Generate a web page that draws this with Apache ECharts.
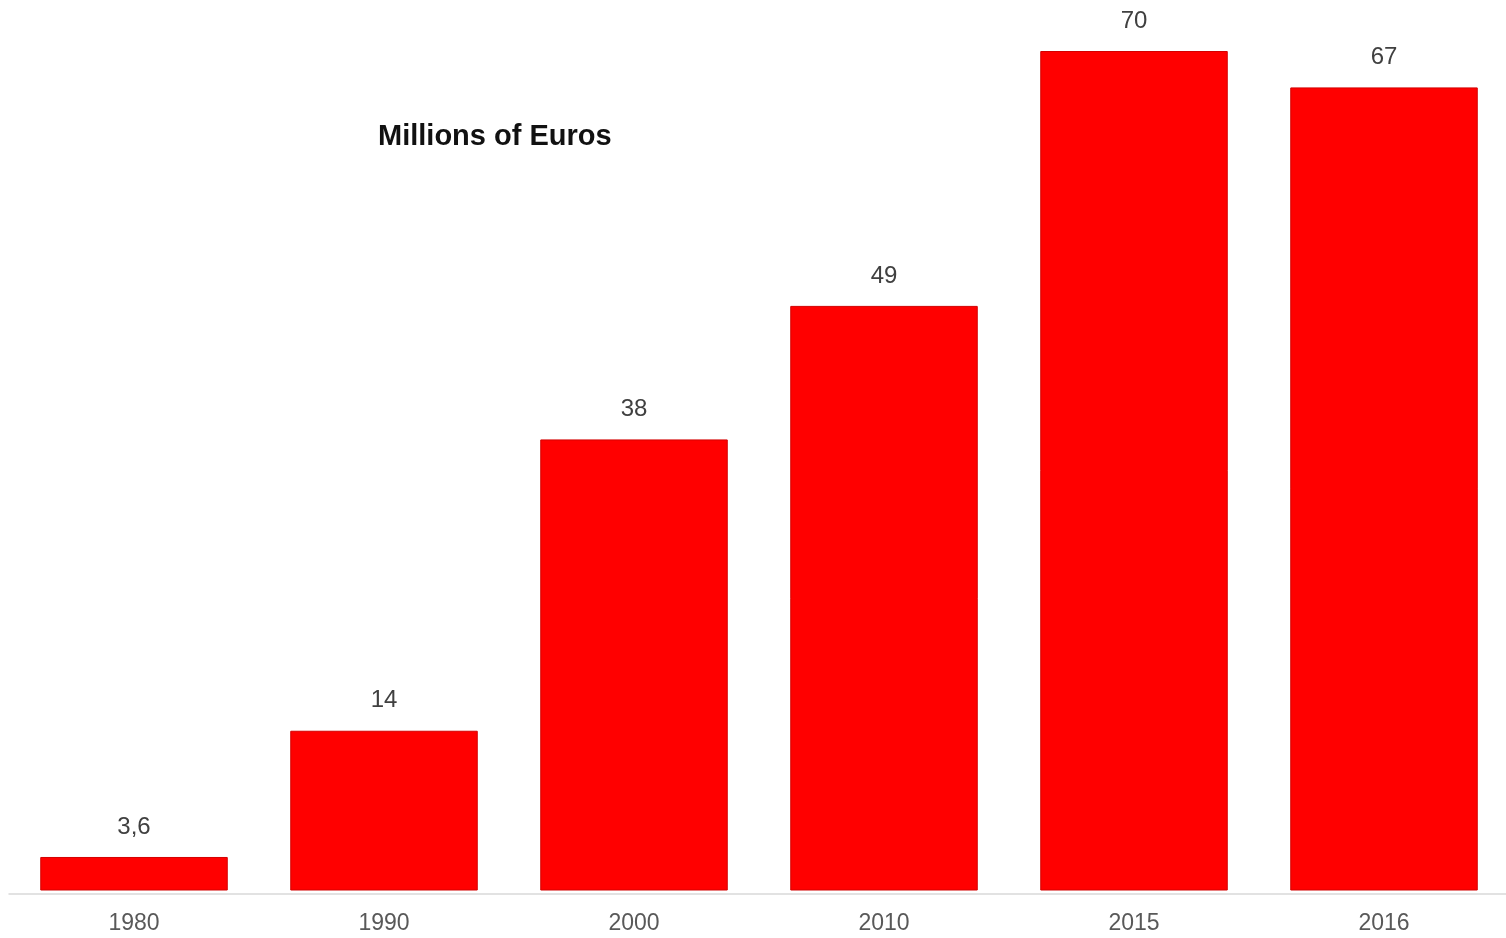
<!DOCTYPE html>
<html>
<head>
<meta charset="utf-8">
<script src="https://cdn.jsdelivr.net/npm/echarts@6/dist/echarts.min.js"></script>
<style>
  html, body { margin: 0; padding: 0; background: #fff; }
  #chart { width: 1506px; height: 938px; }
</style>
</head>
<body>
<div id="chart"></div>
<script>
const years = ['1980', '1990', '2000', '2010', '2015', '2016'];
const values = [3.6, 14, 38, 49, 70, 67];

const chart = echarts.init(document.getElementById('chart'));
chart.setOption({
    animation: false,
    textStyle: { fontFamily: '"Liberation Sans", Arial, sans-serif' },
    title: {
        text: 'Millions of Euros',
        left: 373,
        top: 117,
        textStyle: { fontSize: 29, fontWeight: 'bold', color: '#111' }
    },
    grid: { left: 9, right: -3, top: 51, bottom: 48, outerBoundsMode: 'none', containLabel: false },
    xAxis: {
        type: 'category',
        data: years,
        offset: 4,
        axisLine: { lineStyle: { color: '#d9d9d9', width: 1.5 } },
        axisTick: { show: false },
        axisLabel: { fontSize: 23, color: '#595959', margin: 18 }
    },
    yAxis: {
        type: 'value',
        min: 0.88,
        max: 70,
        show: false,
        splitLine: { show: false }
    },
    series: [{
        type: 'bar',
        data: values,
        barWidth: '75%',
        itemStyle: { color: '#ff0000', borderColor: '#d40000', borderWidth: 1 },
        label: {
            show: true,
            position: 'top',
            distance: 18,
            fontSize: 24,
            color: '#404040',
            formatter: p => String(p.value).replace('.', ',')
        }
    }]
});
window.addEventListener('resize', () => chart.resize());
</script>
</body>
</html>
